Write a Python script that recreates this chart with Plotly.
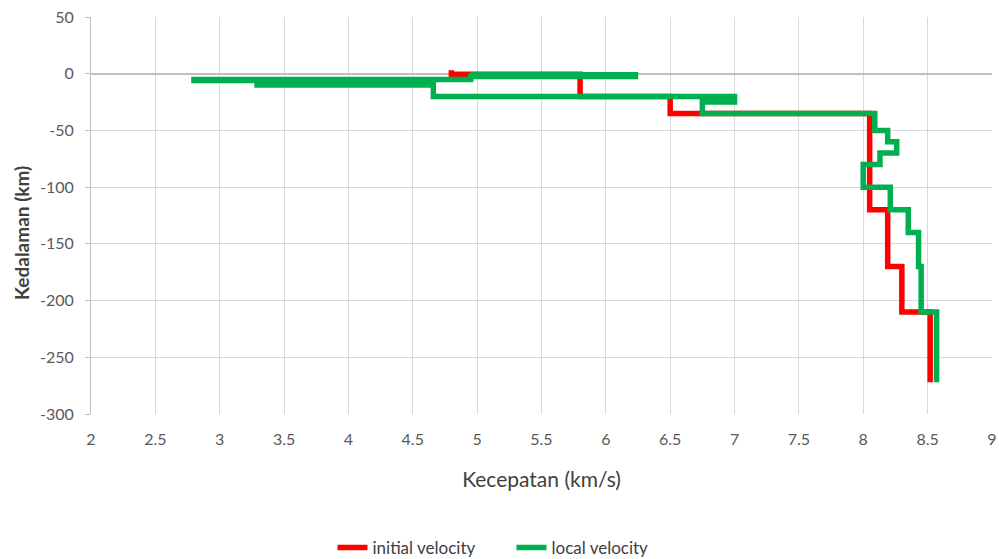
import plotly.graph_objects as go

# Initial velocity model (step profile): velocity (km/s), depth (km)
initial_velocity = [4.8, 4.8, 5.8, 5.8, 6.5, 6.5, 8.05, 8.05, 8.19, 8.19, 8.30, 8.30, 8.52, 8.52]
initial_depth = [3, -0.5, -0.5, -20, -20, -35, -35, -120, -120, -170, -170, -210, -210, -272]

# Local velocity model (step profile)
local_velocity = [4.95, 4.95, 6.23, 6.23, 4.95, 4.95, 2.8, 2.8, 3.29, 3.29, 4.66, 4.66, 7.0, 7.0, 6.75, 6.75,
                  8.09, 8.09, 8.19, 8.19, 8.26, 8.26, 8.13, 8.13, 8.0, 8.0, 8.21, 8.21,
                  8.35, 8.35, 8.43, 8.43, 8.45, 8.45, 8.57, 8.57]
local_depth = [0.5, -1, -1, -2.5, -2.5, -5, -5, -6, -6, -10, -10, -20, -20, -25, -25, -35,
               -35, -50, -50, -60, -60, -70, -70, -80, -80, -100, -100, -120,
               -120, -140, -140, -170, -170, -210, -210, -272]

x_ticks = [2, 2.5, 3, 3.5, 4, 4.5, 5, 5.5, 6, 6.5, 7, 7.5, 8, 8.5, 9]
y_ticks = [50, 0, -50, -100, -150, -200, -250, -300]

FONT = "Lato, 'Open Sans', sans-serif"
TICK_COLOR = "#595959"
TITLE_COLOR = "#404040"

fig = go.Figure()
fig.add_trace(go.Scatter(x=initial_velocity, y=initial_depth, mode="lines",
                         name="initial velocity",
                         line=dict(color="#FF0000", width=5.5)))
fig.add_trace(go.Scatter(x=local_velocity, y=local_depth, mode="lines",
                         name="local velocity",
                         line=dict(color="#00B050", width=5.5)))

fig.update_layout(
    width=999, height=559,
    margin=dict(l=91, r=7, t=17, b=145),
    paper_bgcolor="white", plot_bgcolor="white",
    font=dict(family=FONT, color=TICK_COLOR, size=16),
    showlegend=True,
    legend=dict(orientation="h", x=0.4667, xanchor="center",
                yref="container", y=11 / 559, yanchor="middle",
                entrywidth=134, entrywidthmode="pixels",
                font=dict(size=17, color=TITLE_COLOR), tracegroupgap=0),
    xaxis=dict(
        range=[2, 9.0005], tickvals=x_ticks, ticktext=[f"{v:g}" for v in x_ticks],
        showgrid=True, gridcolor="#D9D9D9", gridwidth=1,
        zeroline=False, showline=False, automargin=False,
        ticks="", ticklabelstandoff=14,
        tickfont=dict(size=16, color=TICK_COLOR),
        title=dict(text="Kecepatan (km/s)", font=dict(size=21, color=TITLE_COLOR), standoff=25),
    ),
    yaxis=dict(
        range=[-300, 50], tickvals=y_ticks, ticktext=[f"{v:g}" for v in y_ticks],
        showgrid=True, gridcolor="#D9D9D9", gridwidth=1,
        zeroline=True, zerolinecolor="#BFBFBF", zerolinewidth=2,
        showline=True, linecolor="#BFBFBF", linewidth=1, automargin=False,
        ticks="outside", ticklen=5, tickcolor="#BFBFBF", ticklabelstandoff=8,
        tickfont=dict(size=16, color=TICK_COLOR),
    ),
    annotations=[dict(
        text="<b>Kedalaman (km)</b>", textangle=-90,
        xref="paper", yref="paper", x=(22 - 91) / 901, y=(414 - 233) / 397,
        xanchor="center", yanchor="middle", showarrow=False,
        font=dict(size=19, color=TITLE_COLOR),
    )],
)

fig.write_html("out.html", config={"displayModeBar": False},
               post_script="document.body.style.margin='0px';")
